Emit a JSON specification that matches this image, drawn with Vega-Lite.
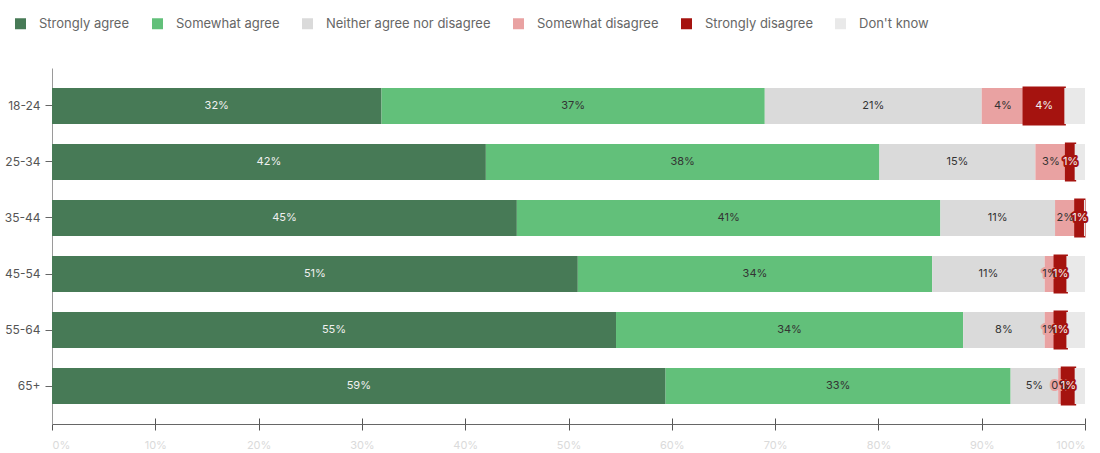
{
  "$schema": "https://vega.github.io/schema/vega-lite/v6.json",
  "autosize": "none",
  "width": 1033,
  "height": 356,
  "padding": {"left": 52, "top": 68, "right": 15, "bottom": 29},
  "background": "#ffffff",
  "config": {
    "font": "Inter",
    "view": {"stroke": null}
  },
  "data": {
    "values": [
      {"age": "18-24", "response": "Strongly agree", "value": 31.9},
      {"age": "18-24", "response": "Somewhat agree", "value": 37.1},
      {"age": "18-24", "response": "Neither agree nor disagree", "value": 21.0},
      {"age": "18-24", "response": "Somewhat disagree", "value": 4.1},
      {"age": "18-24", "response": "Strongly disagree", "value": 3.9},
      {"age": "18-24", "response": "Don't know", "value": 2.0},
      {"age": "25-34", "response": "Strongly agree", "value": 42.0},
      {"age": "25-34", "response": "Somewhat agree", "value": 38.1},
      {"age": "25-34", "response": "Neither agree nor disagree", "value": 15.1},
      {"age": "25-34", "response": "Somewhat disagree", "value": 3.0},
      {"age": "25-34", "response": "Strongly disagree", "value": 0.8},
      {"age": "25-34", "response": "Don't know", "value": 1.0},
      {"age": "35-44", "response": "Strongly agree", "value": 45.0},
      {"age": "35-44", "response": "Somewhat agree", "value": 41.0},
      {"age": "35-44", "response": "Neither agree nor disagree", "value": 11.1},
      {"age": "35-44", "response": "Somewhat disagree", "value": 2.0},
      {"age": "35-44", "response": "Strongly disagree", "value": 0.8},
      {"age": "35-44", "response": "Don't know", "value": 0.1},
      {"age": "45-54", "response": "Strongly agree", "value": 50.9},
      {"age": "45-54", "response": "Somewhat agree", "value": 34.3},
      {"age": "45-54", "response": "Neither agree nor disagree", "value": 10.9},
      {"age": "45-54", "response": "Somewhat disagree", "value": 1.0},
      {"age": "45-54", "response": "Strongly disagree", "value": 1.1},
      {"age": "45-54", "response": "Don't know", "value": 1.8},
      {"age": "55-64", "response": "Strongly agree", "value": 54.6},
      {"age": "55-64", "response": "Somewhat agree", "value": 33.6},
      {"age": "55-64", "response": "Neither agree nor disagree", "value": 7.9},
      {"age": "55-64", "response": "Somewhat disagree", "value": 1.0},
      {"age": "55-64", "response": "Strongly disagree", "value": 1.1},
      {"age": "55-64", "response": "Don't know", "value": 1.8},
      {"age": "65+", "response": "Strongly agree", "value": 59.4},
      {"age": "65+", "response": "Somewhat agree", "value": 33.4},
      {"age": "65+", "response": "Neither agree nor disagree", "value": 4.6},
      {"age": "65+", "response": "Somewhat disagree", "value": 0.4},
      {"age": "65+", "response": "Strongly disagree", "value": 1.2},
      {"age": "65+", "response": "Don't know", "value": 1.0}
    ]
  },
  "transform": [
    {"calculate": "indexof(['Strongly agree','Somewhat agree','Neither agree nor disagree','Somewhat disagree','Strongly disagree',\"Don't know\"], datum.response)", "as": "rank"},
    {"stack": "value", "groupby": ["age"], "sort": [{"field": "rank", "order": "ascending"}], "as": ["x0", "x1"]},
    {"calculate": "(datum.x0 + datum.x1) / 2", "as": "mid"},
    {"calculate": "format(datum.value, '.0f') + '%'", "as": "label"}
  ],
  "encoding": {
    "y": {
      "field": "age",
      "type": "nominal",
      "sort": ["18-24", "25-34", "35-44", "45-54", "55-64", "65+"],
      "scale": {"paddingInner": 0.357, "paddingOuter": 0.357},
      "axis": {
        "title": null,
        "domainColor": "#9a9a9a",
        "domainWidth": 1,
        "tickColor": "#666666",
        "tickSize": 7,
        "labelPadding": 5,
        "labelFontSize": 12,
        "labelColor": "#555555"
      }
    }
  },
  "layer": [
    {
      "mark": {"type": "bar"},
      "encoding": {
        "x": {
          "field": "x0",
          "type": "quantitative",
          "scale": {"domain": [0, 100], "nice": false},
          "axis": {
            "title": null,
            "values": [0, 10, 20, 30, 40, 50, 60, 70, 80, 90, 100],
            "labelExpr": "datum.value + '%'",
            "grid": false,
            "domainColor": "#666666",
            "tickColor": "#555555",
            "tickSize": 6,
            "labelPadding": 9,
            "labelFontSize": 11,
            "labelColor": "#dadada"
          }
        },
        "x2": {"field": "x1"},
        "color": {
          "field": "response",
          "type": "nominal",
          "scale": {
            "domain": ["Strongly agree", "Somewhat agree", "Neither agree nor disagree", "Somewhat disagree", "Strongly disagree", "Don't know"],
            "range": ["#477a56", "#62c07a", "#dadada", "#e9a2a2", "#a5130f", "#e9e9e9"]
          },
          "legend": {
            "title": null,
            "orient": "none",
            "legendX": -38,
            "legendY": -51,
            "direction": "horizontal",
            "symbolType": "square",
            "symbolSize": 121,
            "symbolStrokeWidth": 0,
            "labelFontSize": 13,
            "labelLimit": 400,
            "labelColor": "#666666",
            "labelOffset": 12,
            "columnPadding": 21
          }
        },
        "stroke": {
          "condition": {"test": "datum.response === 'Strongly disagree'", "value": "#a5130f"},
          "value": null
        },
        "strokeWidth": {"value": 3}
      }
    },
    {
      "transform": [{"filter": "datum.response !== \"Don't know\""}],
      "mark": {"type": "text", "fontSize": 11, "strokeWidth": 4, "strokeJoin": "round"},
      "encoding": {
        "x": {
          "field": "mid",
          "type": "quantitative",
          "axis": {
            "orient": "top",
            "offset": -356,
            "values": [0, 10, 20, 30, 40, 50, 60, 70, 80, 90, 100],
            "labels": false,
            "domain": false,
            "grid": false,
            "title": null,
            "tickColor": "#555555",
            "tickSize": 6
          }
        },
        "text": {"field": "label"},
        "stroke": {
          "field": "response",
          "type": "nominal",
          "scale": {
            "domain": ["Strongly agree", "Somewhat agree", "Neither agree nor disagree", "Somewhat disagree", "Strongly disagree", "Don't know"],
            "range": ["#477a56", "#62c07a", "#dadada", "#e9a2a2", "#a5130f", "#e9e9e9"]
          },
          "legend": null
        }
      }
    },
    {
      "transform": [{"filter": "datum.response !== \"Don't know\""}],
      "mark": {"type": "text", "fontSize": 11},
      "encoding": {
        "x": {"field": "mid", "type": "quantitative", "axis": null},
        "text": {"field": "label"},
        "color": {
          "condition": {"test": "datum.response === 'Strongly agree' || datum.response === 'Strongly disagree'", "value": "#f0f0f0"},
          "value": "#333333"
        }
      }
    }
  ],
  "resolve": {"axis": {"x": "independent"}, "scale": {"stroke": "independent"}}
}
